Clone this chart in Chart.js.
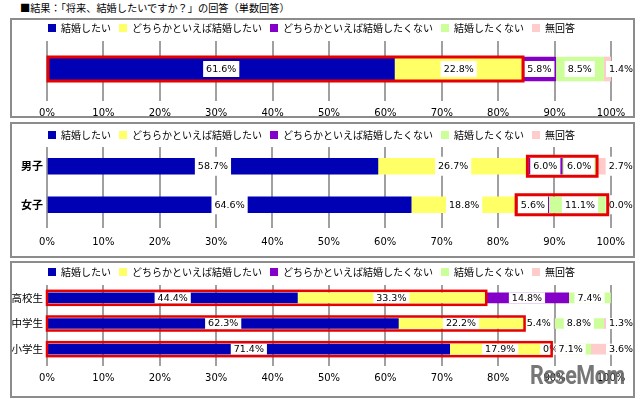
<!DOCTYPE html>
<html>
<head>
<meta charset="utf-8">
<script src="https://cdn.jsdelivr.net/npm/chart.js@4.4.1/dist/chart.umd.min.js"></script>
<style>
  body { margin: 0; width: 640px; height: 399px; background: #fff; position: relative; overflow: hidden;
         font-family: "Noto Sans CJK JP", sans-serif; }
  #title { position: absolute; left: 20px; top: 1px; font-size: 10.2px; line-height: 14px; color: #000; white-space: nowrap; }
  .panel { position: absolute; left: 10px; width: 621px; border: 2px solid #8c8c8c; background: #fff; }
  .panel canvas { display: block; }
  #p1 { top: 18px; height: 96px; }
  #p2 { top: 122px; height: 132px; }
  #p3 { top: 261px; height: 133px; }
  #mark { position: absolute; left: 530px; top: 361px; font: bold 25px Roboto, sans-serif; letter-spacing: -0.5px;
          color: rgba(95, 95, 95, 0.85); transform: scaleX(0.86); transform-origin: left top; white-space: nowrap; }
</style>
</head>
<body>
<div id="title">■結果：「将来、結婚したいですか？」の回答（単数回答）</div>
<div class="panel" id="p1"><canvas id="c1" width="621" height="96"></canvas></div>
<div class="panel" id="p2"><canvas id="c2" width="621" height="132"></canvas></div>
<div class="panel" id="p3"><canvas id="c3" width="621" height="133"></canvas></div>
<div id="mark">ReseMom</div>
<script>
// series (legend order)
const seriesNames = ['結婚したい', 'どちらかといえば結婚したい', 'どちらかといえば結婚したくない', '結婚したくない', '無回答'];
const seriesColors = ['#0000b4', '#ffff66', '#8400c8', '#ccff99', '#ffcccc'];

// panel 1: all respondents
const totalCats = [''];
const totalValues = [61.6, 22.8, 5.8, 8.5, 1.4];

// panel 2: by gender
const genderCats = ['男子', '女子'];
const boysValues = [58.7, 26.7, 6.0, 6.0, 2.7];
const girlsValues = [64.6, 18.8, 5.6, 11.1, 0.0];

// panel 3: by school
const schoolCats = ['高校生', '中学生', '小学生'];
const highValues = [44.4, 33.3, 14.8, 7.4, null];
const middleValues = [62.3, 22.2, 5.4, 8.8, 1.3];
const elemValues = [71.4, 17.9, 0, 7.1, 3.6];
const elemTexts = [null, null, '0%', null, null];

// red boxes: [row, first series, last series]
const totalHighlights = [[0, 0, 1]];
const genderHighlights = [[0, 2, 3], [1, 2, 3]];
const schoolHighlights = [[0, 0, 1], [1, 0, 1], [2, 0, 1]];

const LABEL_FONT = '9.5px "DejaVu Sans", sans-serif';

function makeChart(canvasId, cats, rows, texts, highlights, o) {
    const datasets = seriesNames.map((name, s) => ({
        label: name,
        data: rows.map(r => r[s]),
        texts: rows.map((r, i) => texts[i] ? texts[i][s] : null),
        backgroundColor: seriesColors[s],
        borderWidth: 0,
        barThickness: o.bar
    }));

    const panelPlugin = {
        id: 'panel_' + canvasId,
        beforeInit(chart) {
            const fit = chart.legend.fit;
            chart.legend.fit = function() {
                fit.bind(chart.legend)();
                this.height = o.legendH;
            };
        },
        afterDatasetsDraw(chart) {
            const ctx = chart.ctx;
            const xScale = chart.scales.x;
            ctx.save();
            ctx.font = LABEL_FONT;
            ctx.textAlign = 'center';
            ctx.textBaseline = 'middle';
            chart.data.datasets.forEach((ds, d) => {
                chart.getDatasetMeta(d).data.forEach((bar, i) => {
                    const v = ds.data[i];
                    if (v === null || v === undefined) return;
                    const text = ds.texts[i] || v.toFixed(1) + '%';
                    const tw = ctx.measureText(text).width;
                    const w = tw + 6;
                    let cx = (bar.x + bar.base) / 2;
                    // last series sits just outside the 100% line
                    if (d === seriesNames.length - 1) {
                        cx = xScale.getPixelForValue(100) - 2 + tw / 2;
                    }
                    ctx.fillStyle = '#fff';
                    ctx.fillRect(cx - w / 2, bar.y - o.labelH / 2, w, o.labelH);
                    ctx.fillStyle = '#000';
                    ctx.fillText(text, cx, bar.y + 0.5);
                });
            });
            ctx.strokeStyle = '#e60000';
            ctx.lineWidth = o.redW;
            highlights.forEach(([row, a, b]) => {
                const ea = chart.getDatasetMeta(a).data[row];
                const eb = chart.getDatasetMeta(b).data[row];
                const x0 = ea.base - o.padX;
                const x1 = Math.min(eb.x + o.padX, xScale.right - 3);
                const h = o.bar / 2 + o.padY;
                ctx.strokeRect(x0, ea.y - h, x1 - x0, h * 2);
            });
            ctx.restore();
        }
    };

    return new Chart(document.getElementById(canvasId), {
        type: 'bar',
        data: { labels: cats, datasets: datasets },
        plugins: [panelPlugin],
        options: {
            indexAxis: 'y',
            responsive: false,
            animation: false,
            layout: { padding: { top: -o.shiftTop, left: 0, right: 22, bottom: 0 } },
            scales: {
                x: {
                    stacked: true,
                    min: 0,
                    max: 100,
                    afterFit: s => { s.height = o.xAxisH; },
                    border: { display: false },
                    grid: { color: '#a0a0a0', lineWidth: 2, tickLength: 4 },
                    ticks: {
                        stepSize: 10,
                        padding: o.tickPad,
                        color: '#000',
                        font: { family: '"DejaVu Sans", sans-serif', size: 10 },
                        callback: v => v + '%'
                    }
                },
                y: {
                    stacked: true,
                    afterFit: s => { s.width = 35; },
                    border: { display: false },
                    grid: { display: false, drawTicks: false },
                    ticks: {
                        padding: 4,
                        color: '#000',
                        font: o.yFont
                    }
                }
            },
            plugins: {
                legend: {
                    position: 'top',
                    labels: {
                        boxWidth: 8,
                        boxHeight: 8,
                        padding: 8,
                        color: '#000',
                        font: { family: '"Noto Sans CJK JP", sans-serif', size: 10 }
                    }
                },
                tooltip: { enabled: false }
            }
        }
    });
}

makeChart('c1', totalCats, [totalValues], [null], totalHighlights, {
    bar: 24, legendH: 26, shiftTop: 5, xAxisH: 19, tickPad: 6,
    labelH: 16, redW: 3, padX: 0, padY: 0,
    yFont: { family: '"Noto Sans CJK JP", sans-serif', size: 10 }
});

makeChart('c2', genderCats, [boysValues, girlsValues], [null, null], genderHighlights, {
    bar: 16, legendH: 25, shiftTop: 2, xAxisH: 32, tickPad: 8,
    labelH: 19, redW: 3, padX: 1, padY: 2,
    yFont: { family: '"Noto Sans CJK JP", sans-serif', size: 11, weight: 'bold' }
});

makeChart('c3', schoolCats, [highValues, middleValues, elemValues], [null, null, elemTexts], schoolHighlights, {
    bar: 10, legendH: 26, shiftTop: 4, xAxisH: 34, tickPad: 6,
    labelH: 11, redW: 2.5, padX: 1, padY: 2,
    yFont: { family: '"Noto Sans CJK JP", sans-serif', size: 10.5 }
});
</script>
</body>
</html>
